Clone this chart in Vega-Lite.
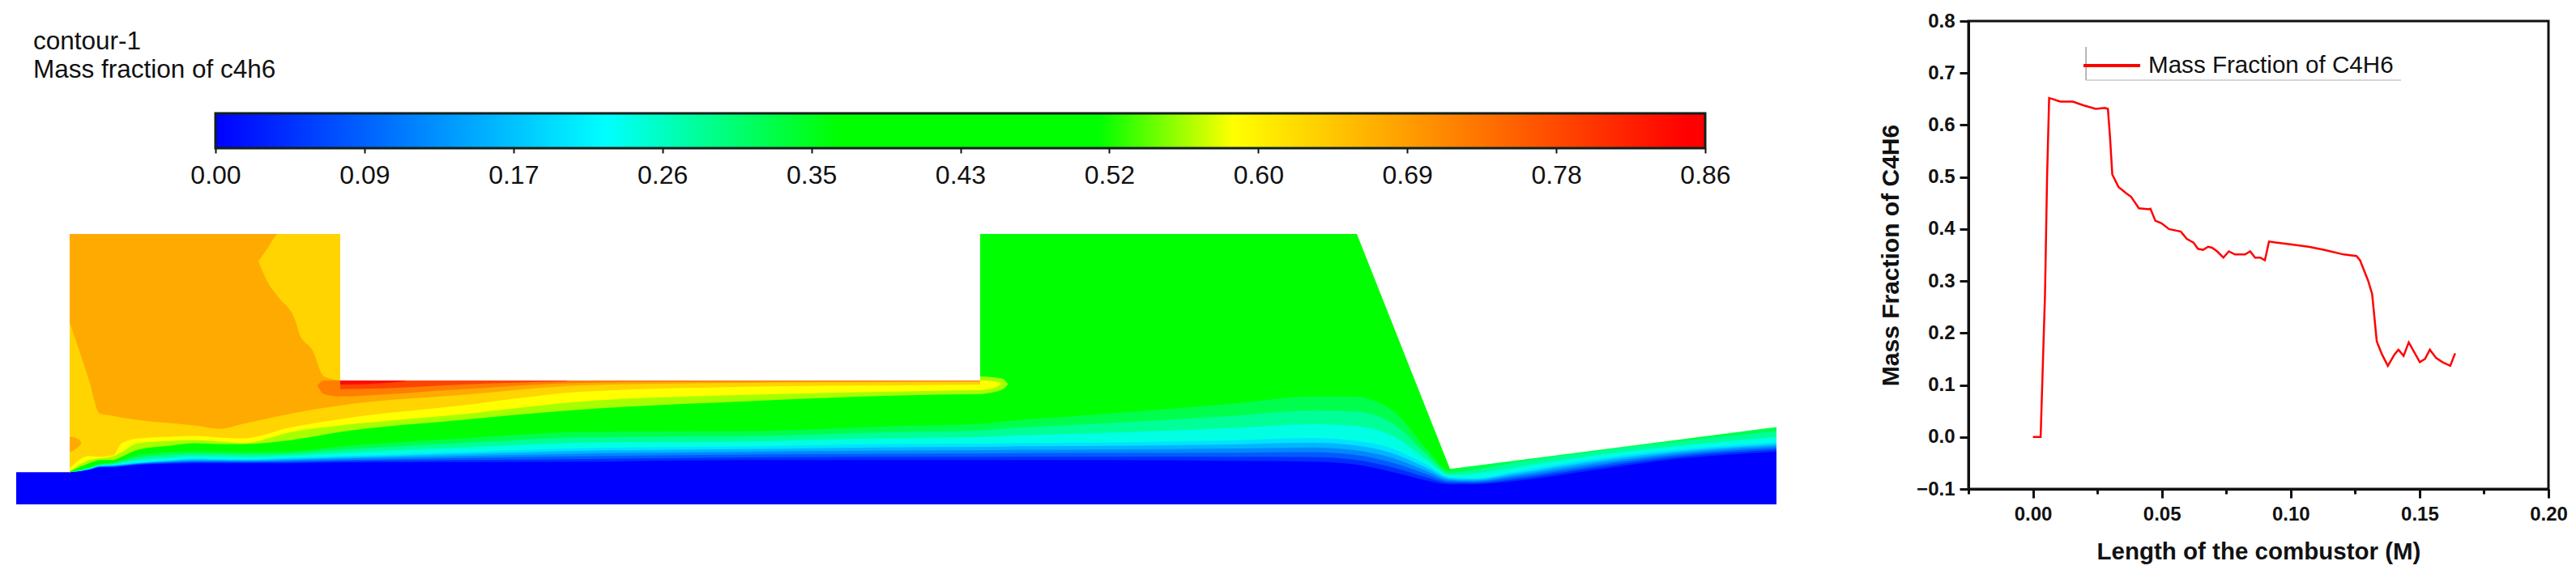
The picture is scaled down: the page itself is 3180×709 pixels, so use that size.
{
  "$schema": "https://vega.github.io/schema/vega-lite/v6.json",
  "background": "white",
  "padding": {"left": 20, "top": 12, "right": 0, "bottom": 0},
  "spacing": 125,
  "resolve": {"scale": {"color": "independent"}, "legend": {"color": "independent"}},
  "config": {
    "font": "Liberation Sans",
    "view": {"stroke": null}
  },
  "datasets": {
    "heading": [
      {"line": "a", "text": "contour-1", "x": 2.1},
      {"line": "b", "text": "Mass fraction of c4h6", "x": 2.1}
    ],
    "bar": [{"from": 0, "to": 0.86}],
    "bands": [
      {"x": 0, "v00": 0},
      {"x": 6.6, "v00": 0, "v04": 4.0, "v08": 4.0, "v12": 4.0, "v16": 4.0, "v20": 4.0, "v24": 4.0, "v28": 4.0, "v32": 4.0, "v36": 4.0, "v53": 4.05, "v59": 4.1, "v63": 4.5, "v68": 22.6},
      {"x": 9, "v00": 0, "v04": 4.3, "v08": 4.32, "v12": 4.34, "v16": 4.36, "v20": 4.38, "v24": 4.4, "v28": 4.47, "v32": 4.53, "v36": 4.6, "v53": 5.1, "v59": 5.5, "v63": 6.0, "v68": 15.4},
      {"x": 10.3, "v00": 0, "v04": 4.6, "v08": 4.64, "v12": 4.68, "v16": 4.72, "v20": 4.76, "v24": 4.8, "v28": 4.87, "v32": 4.93, "v36": 5.0, "v53": 5.5, "v59": 5.7, "v63": 5.9, "v68": 11.3},
      {"x": 12, "v00": 0, "v04": 4.6, "v08": 4.66, "v12": 4.72, "v16": 4.78, "v20": 4.84, "v24": 4.9, "v28": 5.0, "v32": 5.1, "v36": 5.2, "v53": 5.5, "v59": 6.0, "v63": 6.1, "v68": 11.0},
      {"x": 13, "v00": 0, "v04": 4.7, "v08": 4.76, "v12": 4.82, "v16": 4.88, "v20": 4.94, "v24": 5.0, "v28": 5.17, "v32": 5.33, "v36": 5.5, "v53": 5.9, "v59": 6.5, "v63": 7.6, "v68": 10.8},
      {"x": 15, "v00": 0, "v04": 4.9, "v08": 4.96, "v12": 5.02, "v16": 5.08, "v20": 5.14, "v24": 5.2, "v28": 5.5, "v32": 5.8, "v36": 6.1, "v53": 6.8, "v59": 7.6, "v63": 8.2, "v68": 10.5},
      {"x": 19, "v00": 0, "v04": 5.05, "v08": 5.14, "v12": 5.23, "v16": 5.32, "v20": 5.41, "v24": 5.5, "v28": 5.83, "v32": 6.17, "v36": 6.5, "v53": 7.3, "v59": 7.9, "v63": 8.4, "v68": 10.1},
      {"x": 22, "v00": 0, "v04": 5.1, "v08": 5.22, "v12": 5.34, "v16": 5.46, "v20": 5.58, "v24": 5.7, "v28": 6.0, "v32": 6.3, "v36": 6.6, "v53": 7.6, "v59": 8.0, "v63": 8.5, "v68": 9.8},
      {"x": 25.3, "v00": 0, "v04": 5.1, "v08": 5.21, "v12": 5.32, "v16": 5.43, "v20": 5.54, "v24": 5.65, "v28": 5.95, "v32": 6.25, "v36": 6.55, "v53": 7.5, "v59": 7.8, "v63": 8.3, "v68": 9.4},
      {"x": 28, "v00": 0, "v04": 5.1, "v08": 5.2, "v12": 5.3, "v16": 5.4, "v20": 5.5, "v24": 5.6, "v28": 5.9, "v32": 6.2, "v36": 6.5, "v53": 7.5, "v59": 7.6, "v63": 8.2, "v68": 10.0},
      {"x": 34, "v00": 0, "v04": 5.1, "v08": 5.24, "v12": 5.38, "v16": 5.52, "v20": 5.66, "v24": 5.8, "v28": 6.07, "v32": 6.33, "v36": 6.6, "v53": 8.0, "v59": 9.0, "v63": 9.6, "v68": 11.3},
      {"x": 40, "v00": 0, "v04": 5.2, "v08": 5.36, "v12": 5.52, "v16": 5.68, "v20": 5.84, "v24": 6.0, "v28": 6.4, "v32": 6.8, "v36": 7.2, "v53": 9.0, "v59": 9.8, "v63": 10.6, "v68": 12.3},
      {"x": 55, "v00": 0, "v04": 5.25, "v08": 5.5, "v12": 5.75, "v16": 6.0, "v20": 6.25, "v24": 6.5, "v28": 7.07, "v32": 7.63, "v36": 8.2, "v53": 10.5, "v59": 11.2, "v63": 12.3, "v68": 13.6},
      {"x": 70, "v00": 0, "v04": 5.3, "v08": 5.64, "v12": 5.98, "v16": 6.32, "v20": 6.66, "v24": 7.0, "v28": 7.67, "v32": 8.33, "v36": 9.0, "v53": 11.8, "v59": 12.8, "v63": 14.0, "v68": 14.8},
      {"x": 90, "v00": 0, "v04": 5.5, "v08": 5.84, "v12": 6.18, "v16": 6.52, "v20": 6.86, "v24": 7.2, "v28": 7.83, "v32": 8.47, "v36": 9.1, "v53": 12.8, "v59": 13.6, "v63": 14.6, "v68": 15.1},
      {"x": 108, "v00": 0, "v04": 5.5, "v08": 5.9, "v12": 6.3, "v16": 6.7, "v20": 7.1, "v24": 7.5, "v28": 8.23, "v32": 8.97, "v36": 9.7, "v53": 13.5, "v59": 14.0, "v63": 14.8, "v68": 15.2},
      {"x": 119, "v00": 0, "v04": 5.5, "v08": 5.91, "v12": 6.32, "v16": 6.73, "v20": 7.14, "v24": 7.55, "v28": 8.37, "v32": 9.18, "v36": 10.0, "v53": 13.7, "v59": 14.2, "v63": 14.9, "v68": 15.25},
      {"x": 122, "v00": 0, "v04": 5.5, "v08": 5.92, "v12": 6.34, "v16": 6.76, "v20": 7.18, "v24": 7.6, "v28": 8.5, "v32": 9.4, "v36": 10.3},
      {"x": 135, "v00": 0, "v04": 5.5, "v08": 5.94, "v12": 6.38, "v16": 6.82, "v20": 7.26, "v24": 7.7, "v28": 8.9, "v32": 10.1, "v36": 11.3},
      {"x": 150, "v00": 0, "v04": 5.4, "v08": 5.91, "v12": 6.42, "v16": 6.93, "v20": 7.44, "v24": 7.95, "v28": 9.47, "v32": 10.98, "v36": 12.5},
      {"x": 160, "v00": 0, "v04": 5.3, "v08": 5.89, "v12": 6.48, "v16": 7.07, "v20": 7.66, "v24": 8.25, "v28": 9.97, "v32": 11.68, "v36": 13.4},
      {"x": 165, "v00": 0, "v04": 5.0, "v08": 5.59, "v12": 6.18, "v16": 6.77, "v20": 7.36, "v24": 7.95, "v28": 9.77, "v32": 11.58, "v36": 13.4},
      {"x": 170, "v00": 0, "v04": 4.0, "v08": 4.58, "v12": 5.16, "v16": 5.74, "v20": 6.32, "v24": 6.9, "v28": 8.47, "v32": 10.03, "v36": 11.6},
      {"x": 174, "v00": 0, "v04": 3.0, "v08": 3.4, "v12": 3.8, "v16": 4.2, "v20": 4.6, "v24": 5.0, "v28": 5.67, "v32": 6.33, "v36": 7.0},
      {"x": 177, "v00": 0, "v04": 2.5, "v08": 2.68, "v12": 2.86, "v16": 3.04, "v20": 3.22, "v24": 3.4, "v28": 3.67, "v32": 3.93, "v36": 4.2},
      {"x": 180, "v00": 0, "v04": 2.5, "v08": 2.65, "v12": 2.8, "v16": 2.95, "v20": 3.1, "v24": 3.25, "v28": 3.85, "v32": 4.3, "v36": 12},
      {"x": 185, "v00": 0, "v04": 2.9, "v08": 3.13, "v12": 3.36, "v16": 3.59, "v20": 3.82, "v24": 4.05, "v28": 4.6, "v32": 5.2, "v36": 12},
      {"x": 195, "v00": 0, "v04": 4.3, "v08": 4.57, "v12": 4.84, "v16": 5.11, "v20": 5.38, "v24": 5.65, "v28": 6.1, "v32": 6.6, "v36": 14},
      {"x": 205, "v00": 0, "v04": 5.65, "v08": 5.88, "v12": 6.11, "v16": 6.34, "v20": 6.57, "v24": 6.8, "v28": 7.25, "v32": 7.8, "v36": 14},
      {"x": 217.3, "v00": 0, "v04": 6.55, "v08": 6.78, "v12": 7.01, "v16": 7.24, "v20": 7.47, "v24": 7.7, "v28": 8.4, "v32": 9.1, "v36": 14}
    ],
    "outside": [
      {"part": "inlet", "x": 0, "y": 4.0},
      {"part": "inlet", "x": 6.6, "y": 4.0},
      {"part": "channel", "x": 40, "y": 15.4},
      {"part": "channel", "x": 119, "y": 15.4},
      {"part": "outlet", "x": 165.5, "y": 33.6},
      {"part": "outlet", "x": 177, "y": 4.4},
      {"part": "outlet", "x": 217.3, "y": 9.6}
    ],
    "patches": [
      {"key": "v63", "part": "a", "x": 29.9, "y": 30.2, "y2": 30.2},
      {"key": "v63", "part": "a", "x": 31, "y": 27.7, "y2": 31.8},
      {"key": "v63", "part": "a", "x": 32.4, "y": 25.7, "y2": 33.6},
      {"key": "v63", "part": "a", "x": 34.5, "y": 22.7, "y2": 33.6},
      {"key": "v63", "part": "a", "x": 34.9, "y": 21.3, "y2": 33.6},
      {"key": "v63", "part": "a", "x": 36.6, "y": 19.1, "y2": 33.6},
      {"key": "v63", "part": "a", "x": 38, "y": 15.9, "y2": 33.6},
      {"key": "v63", "part": "a", "x": 40, "y": 15.4, "y2": 33.6},
      {"key": "v68", "part": "b", "x": 6.6, "y": 6.5, "y2": 8.4},
      {"key": "v68", "part": "b", "x": 7.5, "y": 7.0, "y2": 8.2},
      {"key": "v68", "part": "b", "x": 8, "y": 7.5, "y2": 7.8},
      {"key": "v72", "part": "c", "x": 37.2, "y": 14.8, "y2": 14.8},
      {"key": "v72", "part": "c", "x": 38, "y": 13.7, "y2": 15.4},
      {"key": "v72", "part": "c", "x": 40, "y": 13.4, "y2": 15.4},
      {"key": "v72", "part": "c", "x": 46, "y": 13.7, "y2": 15.4},
      {"key": "v72", "part": "c", "x": 55, "y": 14.3, "y2": 15.4},
      {"key": "v72", "part": "c", "x": 70, "y": 15.1, "y2": 15.4},
      {"key": "v72", "part": "c", "x": 90, "y": 15.25, "y2": 15.4},
      {"key": "v72", "part": "c", "x": 119, "y": 15.3, "y2": 15.4},
      {"key": "v78", "part": "d", "x": 40, "y": 14.3, "y2": 15.4},
      {"key": "v78", "part": "d", "x": 45, "y": 14.4, "y2": 15.4},
      {"key": "v78", "part": "d", "x": 55, "y": 14.9, "y2": 15.4},
      {"key": "v78", "part": "d", "x": 68, "y": 15.3, "y2": 15.4},
      {"key": "v84", "part": "e", "x": 40, "y": 14.9, "y2": 15.4},
      {"key": "v84", "part": "e", "x": 44, "y": 15.0, "y2": 15.4},
      {"key": "v84", "part": "e", "x": 48, "y": 15.3, "y2": 15.4},
      {"key": "v53", "part": "f", "x": 119, "y": 13.7, "y2": 15.9},
      {"key": "v53", "part": "f", "x": 120.5, "y": 13.9, "y2": 15.8},
      {"key": "v53", "part": "f", "x": 121.8, "y": 14.3, "y2": 15.6},
      {"key": "v53", "part": "f", "x": 122.4, "y": 14.9, "y2": 15.0},
      {"key": "v59", "part": "g", "x": 119, "y": 14.2, "y2": 15.4},
      {"key": "v59", "part": "g", "x": 120.5, "y": 14.4, "y2": 15.3},
      {"key": "v59", "part": "g", "x": 121.5, "y": 14.9, "y2": 15.1}
    ],
    "legendFrame": [
      {"length": 0.0206, "fraction": 0.6863, "length2": 0.0206, "fraction2": 0.7502, "shade": "#a0a0a0"},
      {"length": 0.0206, "fraction": 0.6863, "length2": 0.1428, "fraction2": 0.6863, "shade": "#c8c8c8"}
    ],
    "curve": [
      {"length": 0, "fraction": 0, "series": "Mass Fraction of C4H6"},
      {"length": 0.003, "fraction": 0, "series": "Mass Fraction of C4H6"},
      {"length": 0.0047, "fraction": 0.275, "series": "Mass Fraction of C4H6"},
      {"length": 0.0055, "fraction": 0.5, "series": "Mass Fraction of C4H6"},
      {"length": 0.0063, "fraction": 0.652, "series": "Mass Fraction of C4H6"},
      {"length": 0.0077, "fraction": 0.65, "series": "Mass Fraction of C4H6"},
      {"length": 0.0106, "fraction": 0.645, "series": "Mass Fraction of C4H6"},
      {"length": 0.0155, "fraction": 0.645, "series": "Mass Fraction of C4H6"},
      {"length": 0.0195, "fraction": 0.638, "series": "Mass Fraction of C4H6"},
      {"length": 0.0244, "fraction": 0.631, "series": "Mass Fraction of C4H6"},
      {"length": 0.0279, "fraction": 0.633, "series": "Mass Fraction of C4H6"},
      {"length": 0.0291, "fraction": 0.631, "series": "Mass Fraction of C4H6"},
      {"length": 0.0299, "fraction": 0.578, "series": "Mass Fraction of C4H6"},
      {"length": 0.0308, "fraction": 0.505, "series": "Mass Fraction of C4H6"},
      {"length": 0.0332, "fraction": 0.481, "series": "Mass Fraction of C4H6"},
      {"length": 0.0361, "fraction": 0.469, "series": "Mass Fraction of C4H6"},
      {"length": 0.0381, "fraction": 0.462, "series": "Mass Fraction of C4H6"},
      {"length": 0.0411, "fraction": 0.44, "series": "Mass Fraction of C4H6"},
      {"length": 0.045, "fraction": 0.438, "series": "Mass Fraction of C4H6"},
      {"length": 0.0456, "fraction": 0.439, "series": "Mass Fraction of C4H6"},
      {"length": 0.0475, "fraction": 0.416, "series": "Mass Fraction of C4H6"},
      {"length": 0.0499, "fraction": 0.411, "series": "Mass Fraction of C4H6"},
      {"length": 0.0528, "fraction": 0.4, "series": "Mass Fraction of C4H6"},
      {"length": 0.0574, "fraction": 0.395, "series": "Mass Fraction of C4H6"},
      {"length": 0.0597, "fraction": 0.381, "series": "Mass Fraction of C4H6"},
      {"length": 0.0623, "fraction": 0.374, "series": "Mass Fraction of C4H6"},
      {"length": 0.064, "fraction": 0.362, "series": "Mass Fraction of C4H6"},
      {"length": 0.066, "fraction": 0.36, "series": "Mass Fraction of C4H6"},
      {"length": 0.068, "fraction": 0.366, "series": "Mass Fraction of C4H6"},
      {"length": 0.0695, "fraction": 0.364, "series": "Mass Fraction of C4H6"},
      {"length": 0.0715, "fraction": 0.357, "series": "Mass Fraction of C4H6"},
      {"length": 0.0739, "fraction": 0.345, "series": "Mass Fraction of C4H6"},
      {"length": 0.076, "fraction": 0.357, "series": "Mass Fraction of C4H6"},
      {"length": 0.0784, "fraction": 0.351, "series": "Mass Fraction of C4H6"},
      {"length": 0.0823, "fraction": 0.351, "series": "Mass Fraction of C4H6"},
      {"length": 0.0843, "fraction": 0.357, "series": "Mass Fraction of C4H6"},
      {"length": 0.0862, "fraction": 0.345, "series": "Mass Fraction of C4H6"},
      {"length": 0.0882, "fraction": 0.345, "series": "Mass Fraction of C4H6"},
      {"length": 0.09, "fraction": 0.34, "series": "Mass Fraction of C4H6"},
      {"length": 0.0916, "fraction": 0.376, "series": "Mass Fraction of C4H6"},
      {"length": 0.0941, "fraction": 0.374, "series": "Mass Fraction of C4H6"},
      {"length": 0.101, "fraction": 0.37, "series": "Mass Fraction of C4H6"},
      {"length": 0.1069, "fraction": 0.366, "series": "Mass Fraction of C4H6"},
      {"length": 0.1128, "fraction": 0.36, "series": "Mass Fraction of C4H6"},
      {"length": 0.1206, "fraction": 0.351, "series": "Mass Fraction of C4H6"},
      {"length": 0.1255, "fraction": 0.348, "series": "Mass Fraction of C4H6"},
      {"length": 0.1269, "fraction": 0.34, "series": "Mass Fraction of C4H6"},
      {"length": 0.1301, "fraction": 0.3, "series": "Mass Fraction of C4H6"},
      {"length": 0.1316, "fraction": 0.275, "series": "Mass Fraction of C4H6"},
      {"length": 0.1334, "fraction": 0.184, "series": "Mass Fraction of C4H6"},
      {"length": 0.1354, "fraction": 0.159, "series": "Mass Fraction of C4H6"},
      {"length": 0.1377, "fraction": 0.137, "series": "Mass Fraction of C4H6"},
      {"length": 0.1403, "fraction": 0.159, "series": "Mass Fraction of C4H6"},
      {"length": 0.1418, "fraction": 0.168, "series": "Mass Fraction of C4H6"},
      {"length": 0.1438, "fraction": 0.156, "series": "Mass Fraction of C4H6"},
      {"length": 0.1458, "fraction": 0.182, "series": "Mass Fraction of C4H6"},
      {"length": 0.1501, "fraction": 0.144, "series": "Mass Fraction of C4H6"},
      {"length": 0.1521, "fraction": 0.15, "series": "Mass Fraction of C4H6"},
      {"length": 0.154, "fraction": 0.168, "series": "Mass Fraction of C4H6"},
      {"length": 0.1564, "fraction": 0.152, "series": "Mass Fraction of C4H6"},
      {"length": 0.1589, "fraction": 0.144, "series": "Mass Fraction of C4H6"},
      {"length": 0.1619, "fraction": 0.137, "series": "Mass Fraction of C4H6"},
      {"length": 0.1638, "fraction": 0.161, "series": "Mass Fraction of C4H6"}
    ]
  },
  "hconcat": [
    {
      "spacing": 6,
      "vconcat": [
        {
          "width": 2173,
          "height": 105.7,
          "data": {"name": "heading"},
          "mark": {"type": "text", "align": "left", "baseline": "alphabetic", "font": "Liberation Sans", "fontSize": 31.5, "color": "#111111"},
          "encoding": {
            "x": {"field": "x", "type": "quantitative", "scale": {"domain": [0, 217.3], "nice": false, "zero": false}, "axis": null},
            "y": {"field": "line", "type": "ordinal", "scale": {"type": "point", "padding": 1.04}, "axis": null},
            "text": {"field": "text"}
          }
        },
        {
          "spacing": 57,
          "vconcat": [
            {
              "width": 2173,
              "height": 43,
              "data": {"name": "bar"},
              "mark": {
                "type": "rect",
                "stroke": "#10201a",
                "strokeWidth": 3,
                "color": {
                  "x1": 0, "y1": 0, "x2": 1, "y2": 0,
                  "gradient": "linear",
                  "stops": [
                    {"offset": 0, "color": "#0000ff"},
                    {"offset": 0.262, "color": "#00ffff"},
                    {"offset": 0.419, "color": "#00ff00"},
                    {"offset": 0.593, "color": "#00ff00"},
                    {"offset": 0.683, "color": "#ffff00"},
                    {"offset": 0.988, "color": "#ff0000"},
                    {"offset": 1, "color": "#ff0000"}
                  ]
                }
              },
              "encoding": {
                "x": {
                  "field": "from",
                  "type": "quantitative",
                  "scale": {"domain": [-0.11504, 0.90115], "nice": false, "zero": false},
                  "axis": {
                    "title": null,
                    "domain": false,
                    "grid": false,
                    "values": [0, 0.086, 0.172, 0.258, 0.344, 0.43, 0.516, 0.602, 0.688, 0.774, 0.86],
                    "labelExpr": "['0.00','0.09','0.17','0.26','0.35','0.43','0.52','0.60','0.69','0.78','0.86'][round(datum.value/0.086)]",
                    "labelFont": "Liberation Sans",
                    "labelFontSize": 32,
                    "labelColor": "#111111",
                    "labelPadding": 12,
                    "labelFlush": false,
                    "labelOverlap": false,
                    "tickColor": "#111111",
                    "tickSize": 6,
                    "tickWidth": 2
                  }
                },
                "x2": {"field": "to"}
              }
            },
            {
              "width": 2173,
              "height": 334,
              "layer": [
                {
                  "data": {"name": "bands"},
                  "transform": [{"fold": ["v00", "v04", "v08", "v12", "v16", "v20", "v24", "v28", "v32", "v36", "v53", "v59", "v63", "v68"]}],
                  "mark": {"type": "area", "interpolate": "monotone"},
                  "encoding": {
                    "x": {"field": "x", "type": "quantitative", "scale": {"domain": [0, 217.3], "nice": false, "zero": false}, "axis": null},
                    "y": {"field": "value", "type": "quantitative", "scale": {"domain": [0, 33.6], "nice": false, "zero": false}, "axis": null},
                    "y2": {"datum": 33.6},
                    "color": {
                      "field": "key",
                      "type": "nominal",
                      "legend": null,
                      "scale": {
                        "domain": ["v00", "v04", "v08", "v12", "v16", "v20", "v24", "v28", "v32", "v36", "v53", "v59", "v63", "v68", "v72", "v78", "v84"],
                        "range": ["#0000ff", "#002dff", "#005bff", "#0088ff", "#00b5ff", "#00e3ff", "#00ffe3", "#00ff97", "#00ff4c", "#00ff00", "#a6ff00", "#ffff00", "#ffd400", "#ffaa00", "#ff7e00", "#ff4400", "#ff0a00"]
                      }
                    }
                  }
                },
                {
                  "data": {"name": "outside"},
                  "mark": {"type": "area", "color": "white"},
                  "encoding": {
                    "x": {"field": "x", "type": "quantitative"},
                    "y": {"field": "y", "type": "quantitative"},
                    "y2": {"datum": 33.6},
                    "detail": {"field": "part"}
                  }
                },
                {
                  "data": {"name": "patches"},
                  "mark": {"type": "area", "interpolate": "monotone"},
                  "encoding": {
                    "x": {"field": "x", "type": "quantitative"},
                    "y": {"field": "y", "type": "quantitative"},
                    "y2": {"field": "y2"},
                    "detail": {"field": "part"},
                    "color": {"field": "key", "type": "nominal", "legend": null}
                  }
                }
              ]
            }
          ]
        }
      ]
    },
    {
      "width": 716,
      "height": 578,
      "view": {"stroke": "#111111", "strokeWidth": 3},
      "layer": [
        {
          "data": {"name": "legendFrame"},
          "mark": {"type": "rule", "strokeWidth": 1.5},
          "encoding": {
            "x": {"field": "length", "type": "quantitative"},
            "y": {"field": "fraction", "type": "quantitative"},
            "x2": {"field": "length2"},
            "y2": {"field": "fraction2"},
            "stroke": {"field": "shade", "type": "nominal", "scale": null}
          }
        },
        {
          "data": {"name": "curve"},
          "mark": {"type": "line", "strokeWidth": 2.5},
          "encoding": {
            "x": {
              "field": "length",
              "type": "quantitative",
              "scale": {"domain": [-0.025, 0.2], "nice": false, "zero": false},
              "axis": {
                "title": "Length of the combustor (M)",
                "titleFont": "Liberation Sans",
                "titleFontSize": 29.5,
                "titleFontWeight": "bold",
                "titleColor": "#111111",
                "titlePadding": 20,
                "grid": false,
                "domainColor": "#111111",
                "domainWidth": 3,
                "values": [-0.025, 0, 0.025, 0.05, 0.075, 0.1, 0.125, 0.15, 0.175, 0.2],
                "labelExpr": "abs(round(datum.value*20)/20-datum.value)<0.001 ? format(datum.value,'.2f') : ''",
                "labelFont": "Liberation Sans",
                "labelFontSize": 24,
                "labelFontWeight": "bold",
                "labelColor": "#111111",
                "labelPadding": 8,
                "labelFlush": false,
                "labelOverlap": false,
                "tickColor": "#111111",
                "tickWidth": 3,
                "tickSize": {"condition": {"test": "abs(round(datum.value*20)/20-datum.value)<0.001", "value": 11}, "value": 6}
              }
            },
            "y": {
              "field": "fraction",
              "type": "quantitative",
              "scale": {"domain": [-0.1, 0.8], "nice": false, "zero": false},
              "axis": {
                "title": "Mass Fraction of C4H6",
                "titleFont": "Liberation Sans",
                "titleFontSize": 30,
                "titleFontWeight": "bold",
                "titleColor": "#111111",
                "titlePadding": 16,
                "grid": false,
                "domainColor": "#111111",
                "domainWidth": 3,
                "values": [-0.1, -0.05, 0, 0.05, 0.1, 0.15, 0.2, 0.25, 0.3, 0.35, 0.4, 0.45, 0.5, 0.55, 0.6, 0.65, 0.7, 0.75, 0.8],
                "labelExpr": "abs(round(datum.value*10)/10-datum.value)<0.001 ? format(datum.value,'.1f') : ''",
                "labelFont": "Liberation Sans",
                "labelFontSize": 24,
                "labelFontWeight": "bold",
                "labelColor": "#111111",
                "labelPadding": 6,
                "labelFlush": false,
                "labelOverlap": false,
                "tickColor": "#111111",
                "tickWidth": 3,
                "tickSize": {"condition": {"test": "abs(round(datum.value*10)/10-datum.value)<0.001", "value": 11}, "value": 6}
              }
            },
            "color": {
              "field": "series",
              "type": "nominal",
              "scale": {"domain": ["Mass Fraction of C4H6"], "range": ["#ff0000"]},
              "legend": {
                "title": null,
                "orient": "none",
                "legendX": 136,
                "legendY": 14,
                "symbolType": "stroke",
                "symbolSize": 4900,
                "symbolStrokeWidth": 4,
                "labelFont": "Liberation Sans",
                "labelFontSize": 29.6,
                "labelColor": "#111111",
                "labelLimit": 500,
                "labelOffset": 8,
                "padding": 4
              }
            }
          }
        }
      ]
    }
  ]
}
